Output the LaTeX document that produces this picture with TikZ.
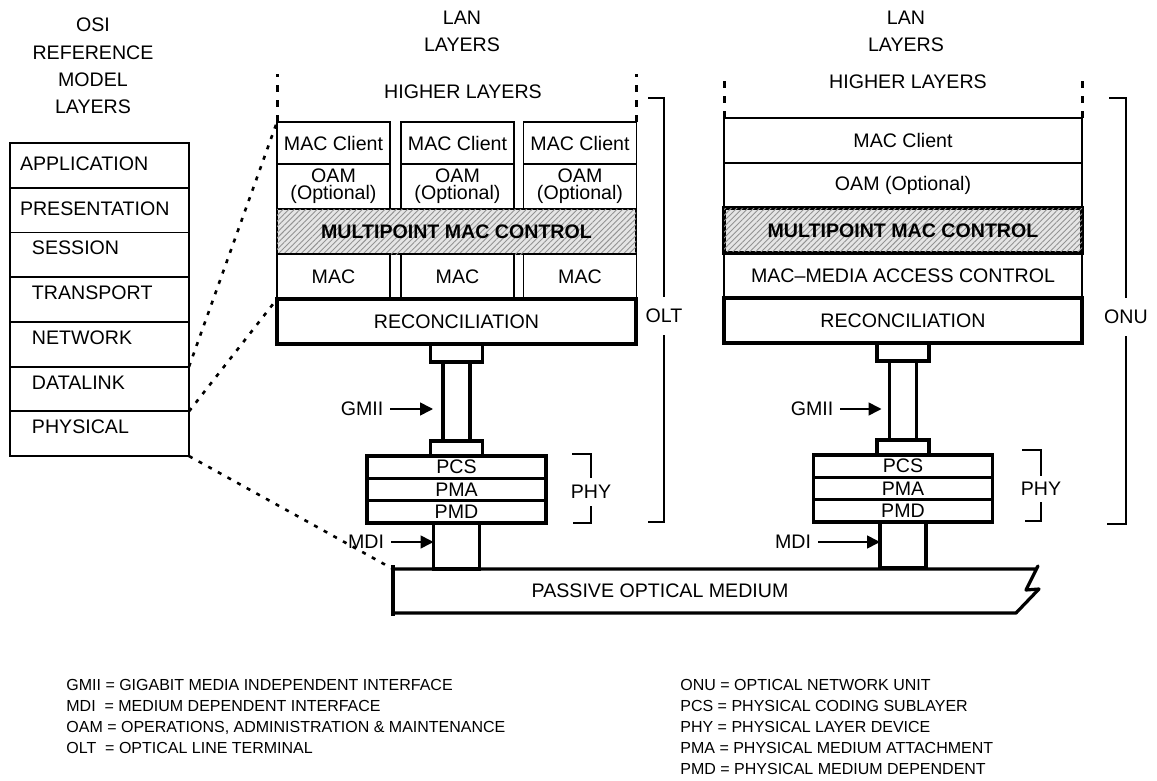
\documentclass[tikz,border=0pt]{standalone}
\usepackage{fontspec}
\setmainfont{Liberation Sans}
\usetikzlibrary{positioning,arrows.meta,patterns.meta}

\begin{document}
\begin{tikzpicture}[x=0.5pt,y=-0.5pt,
    every node/.style={font=\fontsize{9.8}{11.5}\selectfont},
    layer/.style={draw, line width=0.9pt, outer sep=0pt, inner sep=0pt,
        minimum height=22.5pt, align=center},
    thicklayer/.style={layer, line width=1.6pt},
    hatched/.style={fill=gray!20, postaction={pattern={Lines[angle=45,distance=2pt,line width=0.45pt]}, pattern color=gray!85}},
    boldtext/.style={font=\fontsize{9.8}{11.5}\selectfont\bfseries},
    osirow/.style={layer, minimum width=89.5pt, minimum height=22.36pt,
        align=left, text width=67.5pt, text height=7.5pt, text depth=7.5pt},
    ositop/.style={osirow, text width=79.5pt, text depth=2pt},
    colbox/.style={layer, minimum width=56.5pt},
    widebox/.style={layer, minimum width=179.5pt},
    oamtext/.style={font=\fontsize{9.8}{8.5}\selectfont},
    link/.style={draw, line width=1.6pt, outer sep=0pt, inner sep=0pt},
    sublayer/.style={link, minimum width=89.5pt, minimum height=11.17pt},
    vdots/.style={line width=1.5pt, dash pattern=on 3.5pt off 4pt},
    mapline/.style={line width=1.3pt, dash pattern=on 2pt off 3.5pt},
    bracket/.style={line width=0.9pt},
    pointer/.style={-{Triangle[length=6.5pt,width=6.5pt]}, line width=0.8pt},
    title/.style={align=center, font=\fontsize{9.8}{13.6}\selectfont},
    keytext/.style={align=left, inner sep=0pt, anchor=north west, font=\fontsize{8}{10.5}\selectfont}
  ]
  \useasboundingbox (0,0) rectangle (1157,781);

  % OSI reference model
  \node[title] (osititle) at (93,66) {OSI\\REFERENCE\\MODEL\\LAYERS};
  \node[ositop] (osi1) at (99.5,165.4) {APPLICATION};
  \node[ositop, below=0pt of osi1] (osi2) {PRESENTATION};
  \node[osirow, below=0pt of osi2] (osi3) {SESSION};
  \node[osirow, below=0pt of osi3] (osi4) {TRANSPORT};
  \node[osirow, below=0pt of osi4] (osi5) {NETWORK};
  \node[osirow, below=0pt of osi5] (osi6) {DATALINK};
  \node[osirow, below=0pt of osi6] (osi7) {PHYSICAL};

  % OLT stack
  \node[title] (lanA) at (462,31.5) {LAN\\LAYERS};
  \node (higherA) at (463,92) {HIGHER LAYERS};
  \node[colbox, minimum height=21pt] (clientA1) at (333.5,143) {MAC Client};
  \node[colbox, minimum height=21pt] (clientA2) at (457.5,143) {MAC Client};
  \node[colbox, minimum height=21pt] (clientA3) at (580,143) {MAC Client};
  \node[colbox, oamtext, below=0pt of clientA1] (oamA1) {OAM\\(Optional)};
  \node[colbox, oamtext, below=0pt of clientA2] (oamA2) {OAM\\(Optional)};
  \node[colbox, oamtext, below=0pt of clientA3] (oamA3) {OAM\\(Optional)};
  \node[widebox, hatched, boldtext] (mpcA) at (456.5,231.5) {MULTIPOINT MAC CONTROL};
  \node[colbox] (macA1) at (333.5,276.5) {MAC};
  \node[colbox] (macA2) at (457.5,276.5) {MAC};
  \node[colbox] (macA3) at (580,276.5) {MAC};
  \node[widebox, thicklayer] (recA) at (456.5,321.5) {RECONCILIATION};
  \node[link, minimum width=26pt, minimum height=9pt, below=0pt of recA] (gtopA) {};
  \node[link, minimum width=13.5pt, minimum height=39.5pt, below=0pt of gtopA] (gcolA) {};
  \node[link, minimum width=26pt, minimum height=7.5pt, below=0pt of gcolA] (gbotA) {};
  \node[sublayer, below=0pt of gbotA] (pcsA) {PCS};
  \node[sublayer, below=0pt of pcsA] (pmaA) {PMA};
  \node[sublayer, below=0pt of pmaA] (pmdA) {PMD};
  \node[link, minimum width=23pt, minimum height=23pt, below=0pt of pmdA] (mdiA) {};
  \draw[vdots] (clientA1.north west) -- ++(0,-48);
  \draw[vdots] (clientA3.north east) -- ++(0,-48);

  \node (gmiiA) at (362,409) {GMII};
  \draw[pointer, shorten >=5pt] (gmiiA.east) -- (gmiiA.east -| gcolA.west);
  \node (mdilabA) at (366,542) {MDI};
  \draw[pointer] (mdilabA.east) -- (mdilabA.east -| mdiA.west);
  \node[inner sep=3.5pt] (phyA) at (591,492) {PHY};
  \draw[bracket] (572,454) -| (phyA.north);
  \draw[bracket] (573,523) -| (phyA.south);
  \node[inner ysep=6pt] (oltlab) at (664,316) {OLT};
  \draw[bracket] (648,98) -| (oltlab.north);
  \draw[bracket] (648,522) -| (oltlab.south);

  % ONU stack
  \node[title] (lanB) at (906,31.5) {LAN\\LAYERS};
  \node (higherB) at (908,82) {HIGHER LAYERS};
  \node[layer, minimum width=179pt] (clientB) at (903,140.5) {MAC Client};
  \node[layer, minimum width=179pt, below=0pt of clientB] (oamB) {OAM (Optional)};
  \node[layer, minimum width=179pt, thicklayer, hatched, boldtext, below=0pt of oamB] (mpcB) {MULTIPOINT MAC CONTROL};
  \node[layer, minimum width=179pt, below=0pt of mpcB] (macB) {MAC--MEDIA ACCESS CONTROL};
  \node[layer, minimum width=179pt, thicklayer, below=0pt of macB] (recB) {RECONCILIATION};
  \node[link, minimum width=26pt, minimum height=9pt, below=0pt of recB] (gtopB) {};
  \node[link, minimum width=13.5pt, minimum height=39.5pt, below=0pt of gtopB] (gcolB) {};
  \node[link, minimum width=26pt, minimum height=7.5pt, below=0pt of gcolB] (gbotB) {};
  \node[sublayer, below=0pt of gbotB] (pcsB) {PCS};
  \node[sublayer, below=0pt of pcsB] (pmaB) {PMA};
  \node[sublayer, below=0pt of pmaB] (pmdB) {PMD};
  \node[link, minimum width=23pt, minimum height=23pt, below=0pt of pmdB] (mdiB) {};
  \draw[vdots] (clientB.north west) -- ++(0,-44);
  \draw[vdots] (clientB.north east) -- ++(0,-44);

  \node (gmiiB) at (812,409) {GMII};
  \draw[pointer, shorten >=4pt] (gmiiB.east) -- (gmiiB.east -| gcolB.west);
  \node (mdilabB) at (793,542) {MDI};
  \draw[pointer] (mdilabB.east) -- (mdilabB.east -| mdiB.west);
  \node[inner sep=3pt] (phyB) at (1041,489) {PHY};
  \draw[bracket] (1022,450) -| (phyB.north);
  \draw[bracket] (1025,521) -| (phyB.south);
  \node[inner ysep=6pt] (onulab) at (1126,317) {ONU};
  \draw[bracket] (1109,98) -| (onulab.north);
  \draw[bracket] (1107,524) -| (onulab.south);

  % passive optical medium
  \coordinate (medtl) at (393,569);
  \node (medium) at (660,591) {PASSIVE OPTICAL MEDIUM};
  \draw[line width=1.6pt, line join=round] (medtl) -- (1036,569) -- (1038,566) -- (1026,590)
      -- (1039,589) -- (1016,613) -- (393,613);
  \draw[line width=1.6pt] (393,565) -- (393,616);

  % mapping of OSI layers
  \draw[mapline] (osi5.south east) -- (clientA1.north west);
  \draw[mapline] (osi6.south east) -- (recA.north west);
  \draw[mapline] (osi7.south east) -- (medtl);

  % abbreviations
  \node[keytext] (keyA) at (66,679) {GMII = GIGABIT MEDIA INDEPENDENT INTERFACE\\
    MDI\ \ = MEDIUM DEPENDENT INTERFACE\\
    OAM = OPERATIONS, ADMINISTRATION \& MAINTENANCE\\
    OLT\ \ = OPTICAL LINE TERMINAL};
  \node[keytext] (keyB) at (680,679) {ONU = OPTICAL NETWORK UNIT\\
    PCS = PHYSICAL CODING SUBLAYER\\
    PHY = PHYSICAL LAYER DEVICE\\
    PMA = PHYSICAL MEDIUM ATTACHMENT\\
    PMD = PHYSICAL MEDIUM DEPENDENT};
\end{tikzpicture}
\end{document}
